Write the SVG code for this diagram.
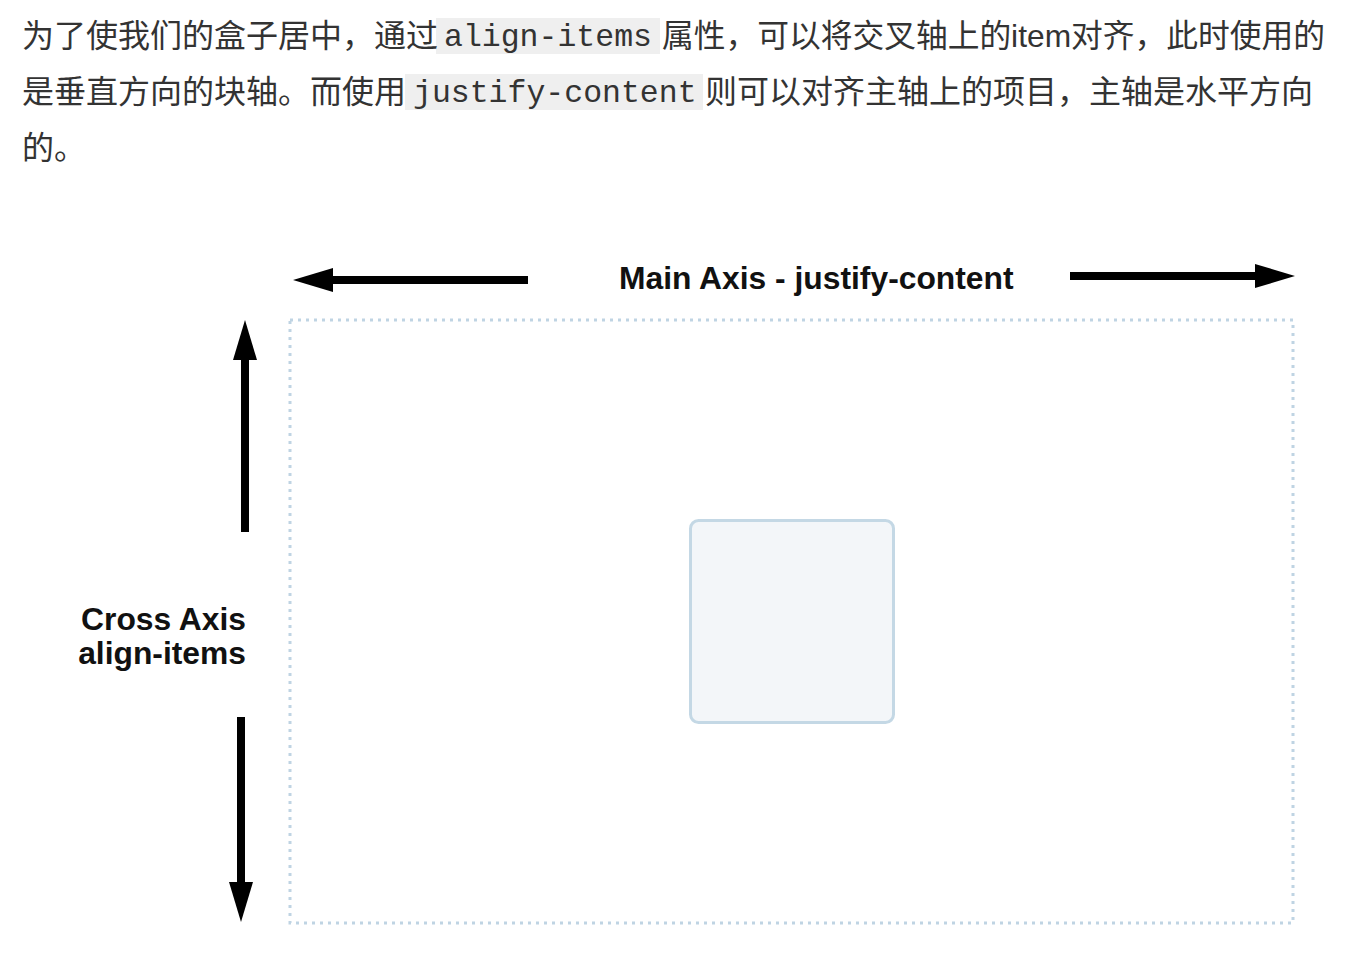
<svg xmlns="http://www.w3.org/2000/svg" width="1370" height="958" viewBox="0 0 1370 958">
<style>
.p{font-family:"Liberation Sans","Noto Sans CJK SC",sans-serif;font-size:32px;fill:#333}
.c{font-family:"Liberation Mono",monospace;font-size:31.5px;fill:#333}
.cb{fill:#efefef}
.lbl{font-family:"Liberation Sans",Arial,sans-serif;font-weight:bold;font-size:31.8px;fill:#111}
.shaft{stroke:#000;stroke-width:8;fill:none;marker-end:url(#head)}
</style>
<defs>
<marker id="head" markerUnits="userSpaceOnUse" markerWidth="40" markerHeight="24" viewBox="0 0 40 24" refX="0" refY="12" orient="auto">
<path d="M0,0 L40,12 L0,24 Z" fill="#000"/>
</marker>
</defs>
<rect width="1370" height="958" fill="#fff"/>
<g id="paragraph">
<rect class="cb" x="436" y="18" width="224" height="36"/>
<rect class="cb" x="405" y="74" width="298" height="36"/>
<text class="p" x="22" y="47">为了使我们的盒子居中，通过</text>
<text class="c" x="444" y="46">align-items</text>
<text class="p" x="662" y="47" textLength="663" lengthAdjust="spacingAndGlyphs">属性，可以将交叉轴上的item对齐，此时使用的</text>
<text class="p" x="22" y="103">是垂直方向的块轴。而使用</text>
<text class="c" x="413" y="102">justify-content</text>
<text class="p" x="705" y="103">则可以对齐主轴上的项目，主轴是水平方向</text>
<text class="p" x="22" y="159">的。</text>
</g>
<g id="container">
<rect x="290" y="320" width="1003" height="603" fill="none" stroke="#bfd4e3" stroke-width="3" stroke-dasharray="3 5"/>
</g>
<g id="item">
<rect x="690.5" y="520.5" width="203" height="202" rx="8" fill="#f3f6f9" stroke="#c4d8e5" stroke-width="3"/>
</g>
<g id="main-axis-label">
<text class="lbl" x="619" y="289">Main Axis - justify-content</text>
</g>
<g id="cross-axis-label">
<text class="lbl" x="246" y="630" text-anchor="end">Cross Axis</text>
<text class="lbl" x="246" y="664" text-anchor="end">align-items</text>
</g>
<g id="connectors">
<line class="shaft" x1="528" y1="280" x2="333" y2="280"/>
<line class="shaft" x1="1070" y1="276" x2="1255" y2="276"/>
<line class="shaft" x1="245" y1="532" x2="245" y2="360"/>
<line class="shaft" x1="241" y1="717" x2="241" y2="882"/>
</g>
</svg>
